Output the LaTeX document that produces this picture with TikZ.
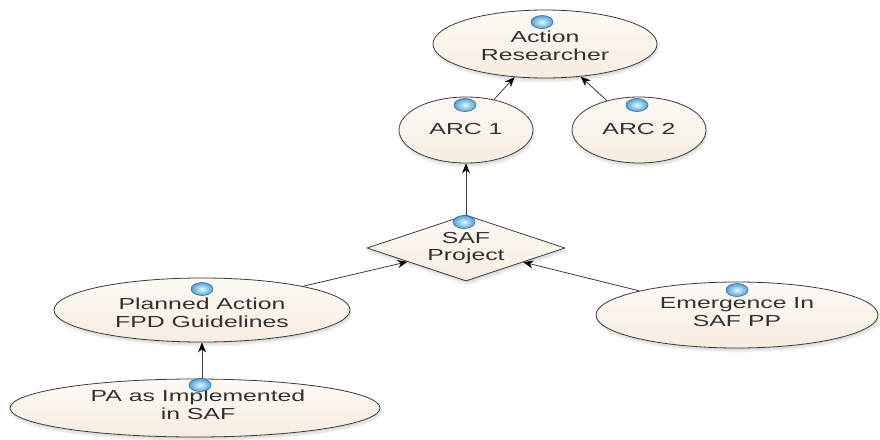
\documentclass[tikz,border=0pt]{standalone}
\usepackage{fontspec}
\setmainfont{Liberation Sans}[FakeStretch=1.55]
\usetikzlibrary{shapes.geometric,shadows.blur,arrows.meta}

\definecolor{nodefillA}{RGB}{253,250,245}
\definecolor{nodefillB}{RGB}{247,237,224}
\definecolor{edgegray}{RGB}{60,60,60}
\definecolor{labelgray}{RGB}{50,50,50}
\definecolor{dotin}{RGB}{228,250,255}
\definecolor{dotout}{RGB}{80,160,215}
\definecolor{dotrim}{RGB}{50,110,170}

\tikzset{
  conceptbase/.style={draw=edgegray, line width=0.8pt,
    top color=nodefillA, bottom color=nodefillB, inner sep=0pt,
    blur shadow={shadow xshift=1pt, shadow yshift=-3pt,
      shadow opacity=15, shadow blur steps=6}},
  oval/.style={conceptbase, ellipse},
  decision/.style={conceptbase, diamond},
  caption/.style={text=labelgray, font=\fontsize{16}{17.5}\selectfont,
    align=center, inner sep=0pt},
  marker/.style={ellipse, minimum width=22pt, minimum height=13pt,
    inner sep=0pt, draw=dotrim, line width=0.6pt,
    inner color=dotin, outer color=dotout},
  link/.style={draw=edgegray, line width=0.8pt,
    -{Stealth[length=10pt,width=8pt,black]}},
}

\begin{document}
\begin{tikzpicture}[x=1pt,y=-1pt]
\useasboundingbox (0,0) rectangle (880,439);

% concept shapes
\node[oval, minimum width=224pt, minimum height=68pt] (ar) at (545,44) {};
\node[oval, minimum width=134pt, minimum height=66pt] (arc1) at (466,130) {};
\node[oval, minimum width=134pt, minimum height=66pt] (arc2) at (639,130) {};
\node[decision, minimum width=198pt, minimum height=66pt, aspect=3] (saf) at (466,248) {};
\node[oval, minimum width=296pt, minimum height=64pt] (pl) at (202,310) {};
\node[oval, minimum width=282pt, minimum height=66pt] (em) at (737,315) {};
\node[oval, minimum width=370pt, minimum height=58pt] (pa) at (195,408) {};

% links
\draw[link] (arc1) -- (ar);
\draw[link] (arc2) -- (ar);
\draw[link] (saf) -- (arc1);
\draw[link] (pl) -- (saf);
\draw[link] (em) -- (saf);
\draw[link] (pa.north -| pl.south) -- (pl.south);

% labels
\node[caption] (ar-text) at (545,46) {Action\\Researcher};
\node[caption] (arc1-text) at (466,129) {ARC 1};
\node[caption] (arc2-text) at (639,129) {ARC 2};
\node[caption] (saf-text) at (466,248) {SAF\\Project};
\node[caption] (pl-text) at (202,313) {Planned Action\\FPD Guidelines};
\node[caption] (em-text) at (737,312) {Emergence In\\SAF PP};
\node[caption] (pa-text) at (198,405) {PA as Implemented\\in SAF};

% status markers
\node[marker] (ar-dot) at (542,22) {};
\node[marker] (arc1-dot) at (465,105) {};
\node[marker] (arc2-dot) at (637,105) {};
\node[marker] (saf-dot) at (464,222) {};
\node[marker] (pl-dot) at (202,289) {};
\node[marker] (em-dot) at (737,290) {};
\node[marker] (pa-dot) at (200,385) {};
\end{tikzpicture}
\end{document}
